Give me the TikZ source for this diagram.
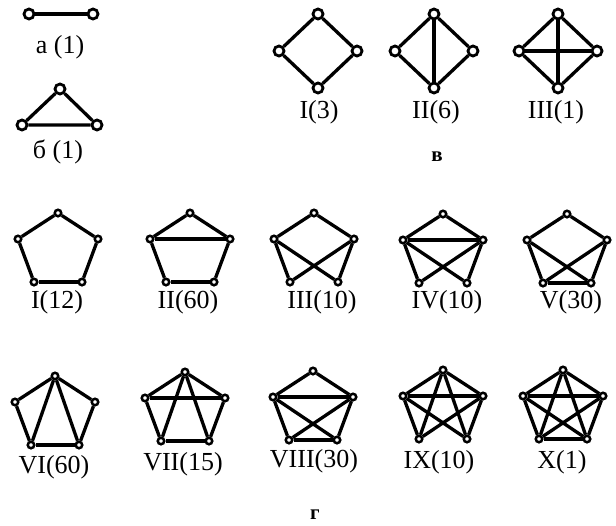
\documentclass[tikz,border=0pt]{standalone}
\usepackage{fontspec}
\setmainfont{Liberation Serif}

\tikzset{
    bigdot/.style={circle, draw, fill=white, line width=2.8pt, minimum size=10pt, inner sep=0pt},
    dot/.style={circle, draw, fill=white, line width=2.5pt, minimum size=6.5pt, inner sep=0pt},
    edge/.style={line width=3.3pt},
    caption/.style={font=\fontsize{26}{28}\selectfont, inner sep=0pt},
    part/.style={font=\bfseries\fontsize{21}{24}\selectfont, inner sep=0pt}
}

% four vertices of a diamond, top vertex at (#2,#3)
\newcommand{\diamondgraph}[3]{%
    \node[bigdot] (#1t) at (#2,#3) {};
    \node[bigdot] (#1l) at (#2-39,#3+37) {};
    \node[bigdot] (#1r) at (#2+39,#3+37) {};
    \node[bigdot] (#1b) at (#2,#3+74) {};
}
% five vertices of a pentagon, top vertex at (#2,#3)
\newcommand{\pentgraph}[3]{%
    \node[dot] (#1t) at (#2,#3) {};
    \node[dot] (#1l) at (#2-40,#3+26) {};
    \node[dot] (#1r) at (#2+40,#3+26) {};
    \node[dot] (#1bl) at (#2-24,#3+69) {};
    \node[dot] (#1br) at (#2+24,#3+69) {};
}

\begin{document}
\begin{tikzpicture}[x=1pt, y=-1pt]
    \useasboundingbox (0,0) rectangle (616,525);

    %a: one edge
    \node[bigdot] (a1) at (29,14) {};
    \node[bigdot] (a2) at (93,14) {};
    \draw[edge] (a1) -- (a2);
    \node[caption] (alabel) at (60,47) {а (1)};

    %b: triangle
    \node[bigdot] (bt) at (60,89) {};
    \node[bigdot] (bl) at (22,125) {};
    \node[bigdot] (br) at (97,125) {};
    \draw[edge] (bt) -- (bl) -- (br) -- (bt);
    \node[caption] (blabel) at (58,152) {б (1)};

    %v: graphs on four vertices
    \diamondgraph{dI}{318}{14}
    \diamondgraph{dII}{434}{14}
    \diamondgraph{dIII}{558}{14}
    \foreach \u/\v in {t/l, t/r, l/b, r/b}
        \draw[edge] (dI\u) -- (dI\v);
    \foreach \u/\v in {t/l, t/r, l/b, r/b, t/b}
        \draw[edge] (dII\u) -- (dII\v);
    \foreach \u/\v in {t/l, t/r, l/b, r/b, t/b, l/r}
        \draw[edge] (dIII\u) -- (dIII\v);
    \node[caption] (dIlabel) at (319,112) {I(3)};
    \node[caption] (dIIlabel) at (436,112) {II(6)};
    \node[caption] (dIIIlabel) at (556,112) {III(1)};
    \node[part] (vlabel) at (437,157) {в};

    %g: graphs on five vertices, first row
    \pentgraph{pI}{58}{213}
    \pentgraph{pII}{190}{213}
    \pentgraph{pIII}{314}{213}
    \pentgraph{pIV}{443}{214}
    \pentgraph{pV}{567}{214}
    \foreach \u/\v in {t/l, t/r, l/bl, r/br, bl/br}
        \draw[edge] (pI\u) -- (pI\v);
    \foreach \u/\v in {t/l, t/r, l/r, l/bl, r/br, bl/br}
        \draw[edge] (pII\u) -- (pII\v);
    \foreach \u/\v in {t/l, t/r, l/bl, r/br, l/br, r/bl}
        \draw[edge] (pIII\u) -- (pIII\v);
    \foreach \u/\v in {t/l, t/r, l/r, l/bl, r/br, l/br, r/bl}
        \draw[edge] (pIV\u) -- (pIV\v);
    \foreach \u/\v in {t/l, t/r, l/bl, r/br, bl/br, l/br, r/bl}
        \draw[edge] (pV\u) -- (pV\v);
    \node[caption] (pIlabel) at (57,302) {I(12)};
    \node[caption] (pIIlabel) at (188,302) {II(60)};
    \node[caption] (pIIIlabel) at (322,302) {III(10)};
    \node[caption] (pIVlabel) at (447,302) {IV(10)};
    \node[caption] (pVlabel) at (571,302) {V(30)};

    %g: second row
    \pentgraph{pVI}{55}{376}
    \pentgraph{pVII}{185}{372}
    \pentgraph{pVIII}{313}{371}
    \pentgraph{pIX}{443}{370}
    \pentgraph{pX}{563}{370}
    \foreach \u/\v in {t/l, t/r, l/bl, r/br, bl/br, t/bl, t/br}
        \draw[edge] (pVI\u) -- (pVI\v);
    \foreach \u/\v in {t/l, t/r, l/r, l/bl, r/br, bl/br, t/bl, t/br}
        \draw[edge] (pVII\u) -- (pVII\v);
    \foreach \u/\v in {t/l, t/r, l/r, l/bl, r/br, bl/br, l/br, r/bl}
        \draw[edge] (pVIII\u) -- (pVIII\v);
    \foreach \u/\v in {t/l, t/r, l/r, l/bl, r/br, t/bl, t/br, l/br, r/bl}
        \draw[edge] (pIX\u) -- (pIX\v);
    \foreach \u/\v in {t/l, t/r, l/r, l/bl, r/br, bl/br, t/bl, t/br, l/br, r/bl}
        \draw[edge] (pX\u) -- (pX\v);
    \node[caption] (pVIlabel) at (54,467) {VI(60)};
    \node[caption] (pVIIlabel) at (183,464) {VII(15)};
    \node[caption] (pVIIIlabel) at (314,461) {VIII(30)};
    \node[caption] (pIXlabel) at (439,462) {IX(10)};
    \node[caption] (pXlabel) at (562,462) {X(1)};
    \node[part] (glabel) at (315,515) {г};
\end{tikzpicture}
\end{document}
